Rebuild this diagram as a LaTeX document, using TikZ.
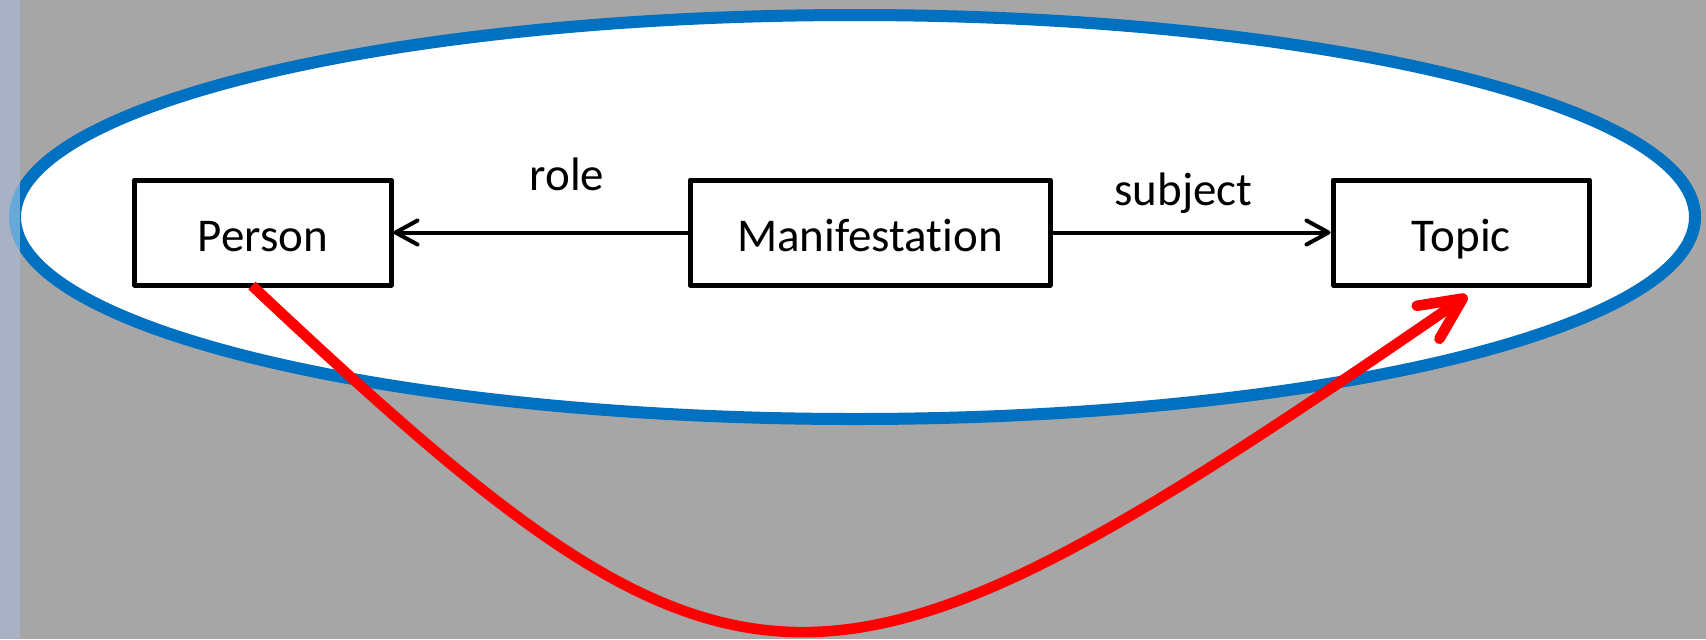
\documentclass[tikz,border=0pt]{standalone}
\usepackage{fontspec}
\setmainfont{Carlito}[Ligatures=NoCommon]
\usetikzlibrary{arrows.meta,calc}
\definecolor{bggray}{HTML}{A6A6A6}
\definecolor{stripc}{HTML}{70809D}
\definecolor{ellblue}{HTML}{0070C0}
\definecolor{redc}{HTML}{FF0000}
\begin{document}
\begin{tikzpicture}[x=0.5pt,y=-0.5pt,
 box/.style={draw=black,line width=2.5pt,fill=white,minimum height=52.5pt,inner sep=0pt,font=\fontsize{23.5}{28}\selectfont,text height=18.6pt,text depth=0pt,line join=round},
 lbl/.style={font=\fontsize{23.5}{28}\selectfont,anchor=base,inner sep=0pt},
 conn/.style={draw=black,line width=2pt,-{Straight Barb[length=11pt,width=12pt,line cap=round,line join=round]}},
 redarrow/.style={draw=redc,line width=5.3pt,-{Straight Barb[length=21pt,width=20pt,line cap=round,line join=round]}}]
\useasboundingbox (0,0) rectangle (1706,639);
\fill[stripc] (0,0) rectangle (20,639);
\fill[bggray] (20,0) rectangle (1706,639);
\draw[ellblue,line width=6pt,fill=white] (855,217) ellipse [x radius=840,y radius=202];
\fill[white,opacity=0.4] (0,0) rectangle (20,639);
\node[box,minimum width=128.25pt] (person) at (262.75,232.5) {Person};
\node[box,minimum width=180pt] (manif) at (870,232.5) {Manifestation};
\node[box,minimum width=128.25pt] (topic) at (1461.25,232.5) {Topic};
\draw[conn] (manif.west) -- (person.east);
\draw[conn] (manif.east) -- (topic.west);
\node[lbl] (role) at (567,190) {role};
\node[lbl] (subj) at (1183.5,205) {subject};
\coordinate (rs) at ([xshift=-5.4pt,yshift=1pt]person.south);
\coordinate (rt) at ([xshift=2.9pt,yshift=-4pt]topic.south);
\draw[redarrow] (rs) .. controls (745,750) and (821,740) .. (rt);
\end{tikzpicture}
\end{document}
